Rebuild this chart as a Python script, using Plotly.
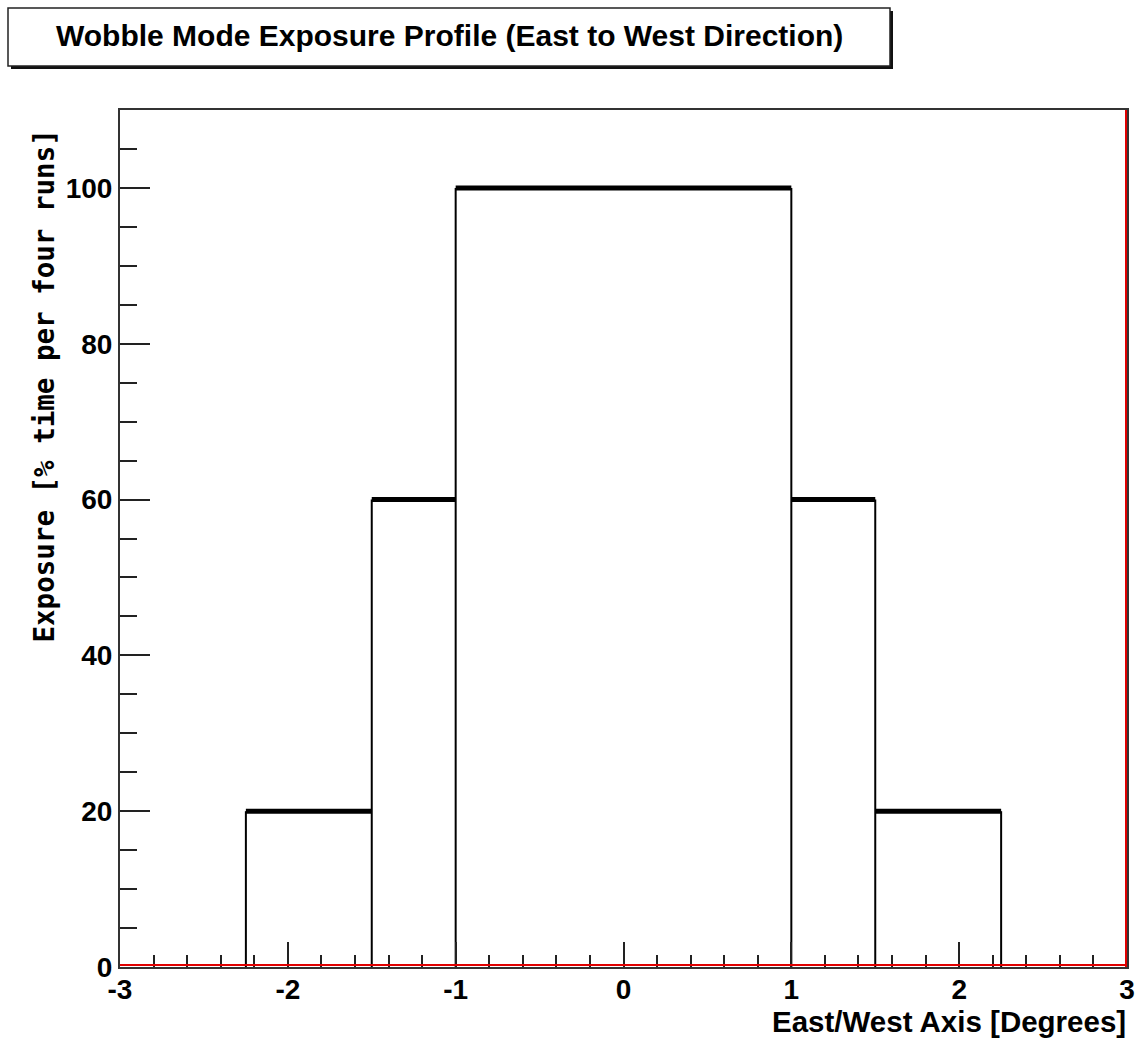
import plotly.graph_objects as go

# Exposure histogram: bin edges (degrees) and content per bin (%)
bin_edges = [-2.25, -1.5, -1.0, 1.0, 1.5, 2.25]
exposure = [20, 60, 100, 60, 20]

x_ticks = [-3, -2, -1, 0, 1, 2, 3]
y_ticks = [0, 20, 40, 60, 80, 100]

W, H = 1140, 1040
L, R, T, B = 120, 13, 110, 73
pw, ph = W - L - R, H - T - B


def px_to_paper_x(px):
    return (px - L) / pw


def px_to_paper_y(py):
    return (H - B - py) / ph


# Horizontal bin tops (thick) and vertical bin walls (thin)
hx, hy = [], []
for i, v in enumerate(exposure):
    hx += [bin_edges[i], bin_edges[i + 1], None]
    hy += [v, v, None]

padded = [0] + exposure + [0]
vx, vy = [], []
for i, e in enumerate(bin_edges):
    vx += [e, e, None]
    vy += [0, max(padded[i], padded[i + 1]), None]

fig = go.Figure()
fig.add_trace(go.Scatter(x=vx, y=vy, mode="lines",
                         line=dict(color="black", width=2), hoverinfo="skip"))
fig.add_trace(go.Scatter(x=hx, y=hy, mode="lines",
                         line=dict(color="black", width=5), hoverinfo="skip"))

tick_font = dict(family="Liberation Sans, Arial, sans-serif", size=28,
                 color="black", weight="bold")

fig.update_xaxes(range=[-3, 3], tickvals=x_ticks, ticktext=[str(t) for t in x_ticks],
                 ticks="inside", ticklen=25, tickwidth=2, tickcolor="#222",
                 minor=dict(dtick=0.2, tick0=-3, ticks="inside", ticklen=12,
                            tickwidth=2, tickcolor="#222"),
                 showline=True, linecolor="#333", linewidth=2, mirror=True,
                 showgrid=False, zeroline=False, tickfont=tick_font,
                 automargin=False, ticklabelstandoff=-4)
fig.update_yaxes(range=[0, 110], tickvals=y_ticks, ticktext=[str(t) for t in y_ticks],
                 ticks="inside", ticklen=30, tickwidth=2, tickcolor="#222",
                 minor=dict(dtick=5, tick0=0, ticks="inside", ticklen=17,
                            tickwidth=2, tickcolor="#222"),
                 showline=True, linecolor="#333", linewidth=2, mirror=True,
                 showgrid=False, zeroline=False, tickfont=tick_font,
                 automargin=False)

shapes = [
    # red function line along the bottom and right edges
    dict(type="line", xref="paper", yref="paper", x0=0, x1=1,
         y0=px_to_paper_y(965), y1=px_to_paper_y(965),
         line=dict(color="#e00000", width=2)),
    dict(type="line", xref="paper", yref="paper",
         x0=px_to_paper_x(1126), x1=px_to_paper_x(1126), y0=0, y1=1,
         line=dict(color="#e00000", width=2)),
    # title box shadow
    dict(type="rect", xref="paper", yref="paper",
         x0=px_to_paper_x(11), x1=px_to_paper_x(893),
         y0=px_to_paper_y(69), y1=px_to_paper_y(11),
         fillcolor="#111", line=dict(width=0), layer="above"),
    # title box
    dict(type="rect", xref="paper", yref="paper",
         x0=px_to_paper_x(8), x1=px_to_paper_x(890),
         y0=px_to_paper_y(66), y1=px_to_paper_y(8),
         fillcolor="white", line=dict(color="#222", width=1.5), layer="above"),
]

annotations = [
    dict(text="Wobble Mode Exposure Profile (East to West Direction)",
         xref="paper", yref="paper", x=px_to_paper_x(449), y=px_to_paper_y(35),
         xanchor="center", yanchor="middle", showarrow=False,
         font=dict(family="Liberation Sans, Arial, sans-serif", size=30,
                   color="black", weight="bold")),
    dict(text="East/West Axis [Degrees]",
         xref="paper", yref="paper", x=px_to_paper_x(1128), y=px_to_paper_y(1021),
         xanchor="right", yanchor="middle", showarrow=False,
         font=dict(family="Liberation Sans, Arial, sans-serif", size=29.5,
                   color="black", weight="bold")),
    dict(text="Exposure [% time per four runs]",
         xref="paper", yref="paper", x=px_to_paper_x(43), y=px_to_paper_y(128),
         xanchor="center", yanchor="top", textangle=-90, showarrow=False,
         font=dict(family="DejaVu Sans Mono, monospace", size=27.5,
                   color="black", weight="bold")),
]

fig.update_layout(width=W, height=H, margin=dict(l=L, r=R, t=T, b=B),
                  paper_bgcolor="white", plot_bgcolor="white", showlegend=False,
                  shapes=shapes, annotations=annotations)

fig.write_html("out.html")
